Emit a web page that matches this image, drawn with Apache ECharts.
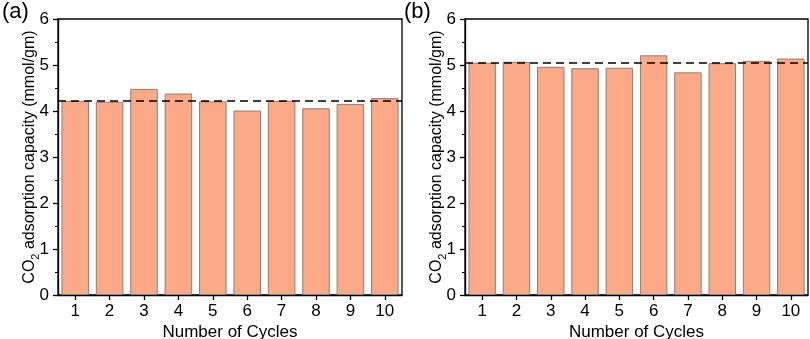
<!DOCTYPE html>
<html>
<head>
<meta charset="utf-8">
<script src="https://cdn.jsdelivr.net/npm/echarts@6/dist/echarts.min.js"></script>
<style>html,body{margin:0;padding:0;background:#fff}#c{width:810px;height:339px}</style>
</head>
<body>
<div id="c"></div>
<script>
var cycles = ['1','2','3','4','5','6','7','8','9','10'];
var capacityA = [4.22, 4.20, 4.48, 4.38, 4.21, 4.01, 4.22, 4.06, 4.15, 4.28];
var capacityB = [5.05, 5.07, 4.96, 4.93, 4.94, 5.21, 4.84, 5.04, 5.09, 5.14];
var averageA = 4.22;
var averageB = 5.04;
var yTicks = {min: 0, max: 6, interval: 1};
var panelLabels = ['(a)', '(b)'];
var xTitle = 'Number of Cycles';

var FONT = '"Liberation Sans", Arial, sans-serif';
var chart = echarts.init(document.getElementById('c'), null, {renderer: 'canvas'});

function xAxis(i) {
  return {
    type: 'category', gridIndex: i, data: cycles,
    name: xTitle, nameLocation: 'middle', nameGap: 29, nameMoveOverlap: false,
    nameTextStyle: {fontFamily: FONT, fontSize: 17, color: '#000'},
    axisLine: {show: true, lineStyle: {color: '#000', width: 1.3}},
    axisTick: {show: true, alignWithLabel: true, inside: false, length: 5, lineStyle: {color: '#000', width: 1.3}},
    axisLabel: {fontFamily: FONT, fontSize: 17, color: '#000', margin: 8},
    splitLine: {show: false}
  };
}
function yAxis(i) {
  return {
    type: 'value', gridIndex: i, min: yTicks.min, max: yTicks.max, interval: yTicks.interval,
    name: '{n|CO}{s|2}{n| adsorption capacity (mmol/gm)}',
    nameLocation: 'middle', nameGap: 17, nameRotate: 90, nameMoveOverlap: false,
    nameTextStyle: {
      fontFamily: FONT, fontSize: 16, color: '#000',
      rich: {
        n: {fontFamily: FONT, fontSize: 16, color: '#000', lineHeight: 22, verticalAlign: 'middle'},
        s: {fontFamily: FONT, fontSize: 11, color: '#000', lineHeight: 22, verticalAlign: 'bottom', padding: [7, 0, 0, 0]}
      }
    },
    axisLine: {show: true, lineStyle: {color: '#000', width: 1.3}},
    axisTick: {show: true, inside: false, length: 5, lineStyle: {color: '#000', width: 1.3}},
    minorTick: {show: true, splitNumber: 2, length: 3, lineStyle: {color: '#000', width: 1}},
    axisLabel: {fontFamily: FONT, fontSize: 17, color: '#000', margin: 9},
    splitLine: {show: false}
  };
}
function bars(i, data, avg) {
  return {
    type: 'bar', xAxisIndex: i, yAxisIndex: i, data: data, barWidth: '80%',
    itemStyle: {color: '#FBA987', borderColor: '#8a8079', borderWidth: 1},
    silent: true,
    markLine: {
      silent: true, symbol: 'none', label: {show: false},
      lineStyle: {color: '#000', type: [8, 5], width: 1.5},
      data: [{yAxis: avg}]
    }
  };
}

chart.setOption({
  animation: false,
  backgroundColor: '#fff',
  title: [
    {text: panelLabels[0], left: -3, top: -4, textStyle: {fontFamily: FONT, fontSize: 22, fontWeight: 'normal', color: '#000'}},
    {text: panelLabels[1], left: 399, top: -4, textStyle: {fontFamily: FONT, fontSize: 22, fontWeight: 'normal', color: '#000'}}
  ],
  grid: [
    {left: 58, top: 19, width: 344, height: 276, outerBoundsMode: 'none', containLabel: false, show: true, borderColor: '#000', borderWidth: 1.3, backgroundColor: 'transparent'},
    {left: 465, top: 19, width: 343, height: 276, outerBoundsMode: 'none', containLabel: false, show: true, borderColor: '#000', borderWidth: 1.3, backgroundColor: 'transparent'}
  ],
  xAxis: [xAxis(0), xAxis(1)],
  yAxis: [yAxis(0), yAxis(1)],
  series: [bars(0, capacityA, averageA), bars(1, capacityB, averageB)]
});
</script>
</body>
</html>
